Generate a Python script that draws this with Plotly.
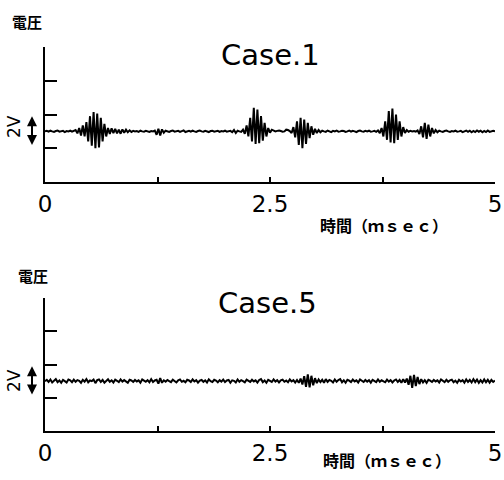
import numpy as np
import plotly.graph_objects as go

# sampling interval of the recorded waveforms (ms)
sample_interval_ms = 0.02

# Case.1 voltage trace (V, relative to baseline)
case1_voltage = [
    0.0, 0.03, -0.02, 0.04, 0.0, -0.03, 0.02, 0.05, -0.02, 0.0,
    0.03, -0.04, 0.02, 0.0, 0.04, -0.02, 0.03, 0.08, -0.12, 0.2,
    -0.25, 0.35, -0.3, 0.55, -0.6, 0.9, -0.85, 1.15, -1.0, 1.05,
    -0.95, 0.8, -0.6, 0.45, -0.3, 0.2, -0.15, 0.18, -0.1, 0.15,
    -0.12, 0.1, -0.14, 0.12, -0.08, 0.1, -0.05, 0.06, -0.04, 0.03,
    0.0, 0.02, -0.03, 0.04, 0.0, -0.02, 0.03, 0.0, -0.03, 0.02,
    0.0, 0.05, -0.2, 0.15, -0.25, 0.12, -0.08, 0.04, 0.0, -0.03,
    0.02, 0.05, -0.02, 0.0, 0.03, -0.03, 0.02, 0.06, -0.04, 0.0,
    0.03, -0.02, 0.04, 0.0, -0.03, 0.02, 0.05, 0.0, -0.02, 0.03,
    0.0, -0.04, 0.02, 0.04, -0.02, 0.0, 0.03, -0.03, 0.02, 0.0,
    0.04, -0.02, 0.0, 0.03, -0.05, 0.08, -0.1, 0.04, 0.0, -0.03,
    0.1, -0.15, 0.35, -0.3, 0.8, -0.6, 1.4, -0.75, 1.3, -0.7,
    0.9, -0.55, 0.5, -0.3, 0.2, -0.08, 0.1, 0.05, 0.0, 0.03,
    0.05, 0.02, -0.02, 0.0, 0.1, 0.08, 0.02, -0.1, 0.25, -0.35,
    0.6, -0.8, 0.8, -1.0, 0.7, -0.75, 0.5, -0.4, 0.3, -0.2,
    0.15, -0.1, 0.08, -0.05, 0.04, 0.0, -0.03, 0.05, 0.02, -0.04,
    0.03, 0.0, 0.05, -0.02, 0.0, 0.04, 0.02, -0.03, 0.0, 0.05,
    -0.02, 0.03, 0.0, -0.04, 0.02, 0.05, 0.0, -0.02, 0.03, 0.0,
    0.04, -0.02, 0.0, 0.03, -0.03, 0.05, -0.1, 0.2, -0.3, 0.6,
    -0.5, 1.2, -0.65, 1.35, -0.7, 1.0, -0.5, 0.6, -0.3, 0.25,
    -0.1, 0.08, -0.02, 0.03, 0.0, 0.02, -0.02, 0.05, -0.15, 0.3,
    -0.35, 0.5, -0.45, 0.4, -0.3, 0.2, -0.12, 0.08, -0.05, 0.04,
    0.0, -0.03, 0.02, 0.05, 0.0, -0.03, 0.02, 0.0, 0.04, -0.02,
    0.0, 0.03, -0.04, 0.02, 0.05, -0.03, 0.04, -0.05, 0.03, -0.04,
    0.05, -0.02, 0.04, -0.05, 0.03, -0.04, 0.05, -0.03, 0.02, 0.04,
    0.0,
]

# Case.5 voltage trace (V, relative to baseline)
case5_voltage = [
    0.0, 0.08, -0.05, 0.1, -0.08, 0.05, 0.12, -0.06, 0.04, -0.1,
    0.07, 0.0, -0.08, 0.1, 0.05, -0.06, 0.09, -0.04, 0.06, 0.02,
    -0.1, 0.08, -0.03, 0.12, -0.07, 0.04, 0.0, 0.09, -0.12, 0.06,
    0.1, -0.05, 0.07, -0.09, 0.03, 0.11, -0.04, 0.05, -0.08, 0.09,
    0.02, -0.06, 0.1, -0.03, 0.06, 0.0, -0.1, 0.08, 0.04, -0.05,
    0.07, -0.02, 0.05, -0.09, 0.1, 0.03, -0.04, 0.06, -0.07, 0.12,
    -0.05, 0.04, 0.08, -0.15, 0.18, -0.1, 0.05, -0.03, 0.07, 0.0,
    -0.06, 0.09, 0.03, -0.08, 0.05, 0.1, -0.04, 0.02, -0.07, 0.08,
    0.04, -0.05, 0.1, -0.02, 0.06, -0.09, 0.03, 0.07, -0.04, 0.05,
    -0.08, 0.11, 0.0, -0.05, 0.08, 0.03, -0.07, 0.06, -0.03, 0.09,
    -0.06, 0.04, 0.07, -0.1, 0.05, 0.02, -0.08, 0.1, -0.04, 0.06,
    0.0, -0.07, 0.09, 0.03, -0.05, 0.08, -0.02, 0.05, -0.09, 0.07,
    0.12, -0.06, 0.04, -0.1, 0.08, 0.02, -0.05, 0.1, -0.03, 0.06,
    -0.08, 0.05, 0.09, -0.04, 0.03, -0.07, 0.1, -0.02, 0.06, -0.09,
    0.07, -0.1, 0.15, -0.2, 0.3, -0.35, 0.4, -0.38, 0.32, -0.25,
    0.18, -0.12, 0.1, -0.06, 0.08, -0.1, 0.12, -0.05, 0.07, 0.02,
    -0.08, 0.1, -0.04, 0.06, 0.12, -0.07, 0.05, -0.1, 0.08, 0.03,
    -0.06, 0.09, -0.02, 0.05, -0.08, 0.1, 0.04, -0.05, 0.07, -0.03,
    0.06, -0.09, 0.08, 0.02, -0.06, 0.1, -0.04, 0.05, 0.0, -0.07,
    0.09, -0.03, 0.06, -0.08, 0.04, 0.1, -0.05, 0.07, -0.1, 0.12,
    -0.08, 0.15, -0.22, 0.32, -0.4, 0.38, -0.3, 0.25, -0.18, 0.12,
    -0.08, 0.06, -0.1, 0.08, 0.03, -0.05, 0.07, -0.02, 0.05, -0.08,
    0.1, 0.0, -0.06, 0.08, -0.04, 0.05, 0.09, -0.07, 0.03, -0.1,
    0.08, -0.02, 0.06, -0.09, 0.1, -0.05, 0.07, -0.08, 0.11, -0.06,
    0.09, -0.1, 0.06, -0.08, 0.1, -0.07, 0.08, -0.09, 0.07, -0.05,
    0.03,
]

x_tick_values = [0, 1.25, 2.5, 3.75, 5]
x_tick_labels = ["0", "", "2.5", "", "5"]
y_tick_values = [-1, 1, 3, 5]
panel_titles = ["Case.1", "Case.5"]
y_label = "電圧"
x_label = "時間（ｍｓｅｃ）"
scale_label = "2V"

t1 = np.arange(len(case1_voltage)) * sample_interval_ms
t2 = np.arange(len(case5_voltage)) * sample_interval_ms

W, H = 504, 480
fig = go.Figure()
fig.add_trace(go.Scatter(x=t1, y=case1_voltage, mode="lines",
                         line=dict(color="black", width=2),
                         xaxis="x", yaxis="y", showlegend=False, hoverinfo="skip"))
fig.add_trace(go.Scatter(x=t2, y=case5_voltage, mode="lines",
                         line=dict(color="black", width=2),
                         xaxis="x2", yaxis="y2", showlegend=False, hoverinfo="skip"))

xdom = [45 / W, 495 / W]
ydom1 = [1 - 182 / H, 1 - 47 / H]
ydom2 = [1 - 431 / H, 1 - 298 / H]

def xaxis_style(anchor):
    return dict(domain=xdom, anchor=anchor, range=[0, 5], showline=True,
                linecolor="black", linewidth=2, ticks="inside", ticklen=5,
                tickwidth=2, tickcolor="black", tickvals=x_tick_values,
                ticktext=x_tick_labels, showgrid=False, zeroline=False,
                automargin=False,
                tickfont=dict(family="DejaVu Sans", size=23, color="black"))

def yaxis_style(anchor, dom):
    return dict(domain=dom, anchor=anchor, range=[-3, 5], showline=True,
                linecolor="black", linewidth=2, ticks="inside", ticklen=12,
                tickwidth=2, tickcolor="black", tickvals=y_tick_values,
                automargin=False,
                showticklabels=False, showgrid=False, zeroline=False)

annotations = []
panels = [("y", 1 - 22 / H, 27, 1 - 55 / H, 270, 1 - 127 / H, 1 - 225 / H, 384),
          ("y2", 1 - 275 / H, 33, 1 - 303 / H, 267, 1 - 381 / H, 1 - 460 / H, 387)]
for k, (yref, ylab_y, ylab_x, title_y, title_x, sc_y, xl_y, xl_x) in enumerate(panels):
    annotations.append(dict(text=y_label, xref="paper", yref="paper", x=ylab_x / W, y=ylab_y,
                            showarrow=False, xanchor="center", yanchor="middle",
                            font=dict(family="Noto Sans CJK JP", size=15, color="black", weight="bold")))
    annotations.append(dict(text=panel_titles[k], xref="paper", yref="paper", x=title_x / W, y=title_y,
                            showarrow=False, xanchor="center", yanchor="middle",
                            font=dict(family="DejaVu Sans", size=29, color="black")))
    annotations.append(dict(text=scale_label, xref="paper", yref="paper", x=14 / W, y=sc_y,
                            showarrow=False, xanchor="center", yanchor="middle", textangle=-90,
                            font=dict(family="DejaVu Sans", size=17, color="black")))
    annotations.append(dict(text="", xref="paper", yref=yref, x=32 / W, y=0.9,
                            axref="pixel", ax=0, ayref=yref, ay=-0.9,
                            showarrow=True, arrowside="end+start", arrowhead=2,
                            arrowsize=1, arrowwidth=2, arrowcolor="black"))
    annotations.append(dict(text=x_label, xref="paper", yref="paper", x=xl_x / W, y=xl_y,
                            showarrow=False, xanchor="center", yanchor="middle",
                            font=dict(family="Noto Sans CJK JP", size=16, color="black", weight="bold")))

fig.update_layout(
    width=W, height=H,
    margin=dict(l=0, r=0, t=0, b=0),
    paper_bgcolor="white", plot_bgcolor="white",
    xaxis=xaxis_style("y"), yaxis=yaxis_style("x", ydom1),
    xaxis2=xaxis_style("y2"), yaxis2=yaxis_style("x2", ydom2),
    annotations=annotations,
    showlegend=False,
)

fig.write_html("out.html", config={"displayModeBar": False},
               post_script="document.body.style.margin='0';document.body.style.overflow='hidden';")
